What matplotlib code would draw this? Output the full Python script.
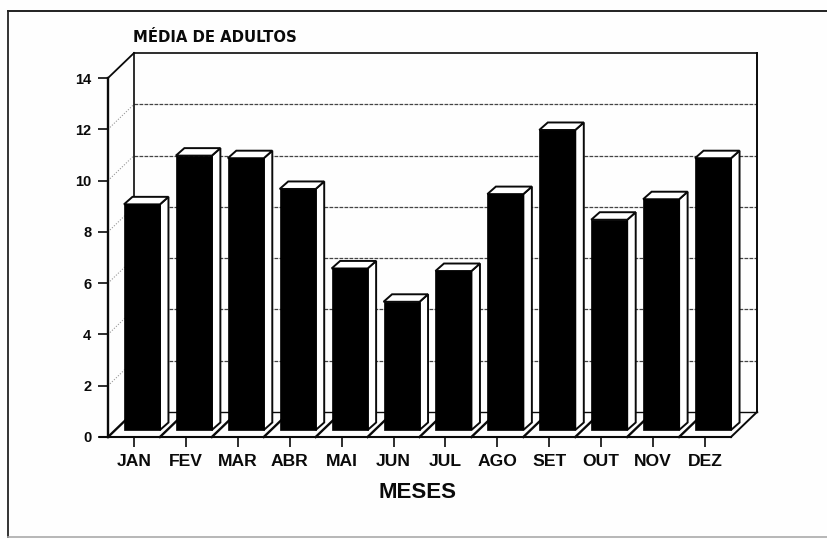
import matplotlib
matplotlib.use("Agg")
import matplotlib.pyplot as plt
from matplotlib.lines import Line2D
from matplotlib.patches import Polygon

months = ["JAN", "FEV", "MAR", "ABR", "MAI", "JUN", "JUL", "AGO", "SET", "OUT", "NOV", "DEZ"]
values = [8.8, 10.7, 10.6, 9.4, 6.3, 5.0, 6.2, 9.2, 11.7, 8.2, 9.0, 10.6]
yticks = [0, 2, 4, 6, 8, 10, 12, 14]
title = "MÉDIA DE ADULTOS"
xlabel = "MESES"

W, H = 828, 539
plt.rcParams["font.family"] = ["Liberation Sans", "DejaVu Sans"]
plt.rcParams["font.weight"] = "bold"
fig = plt.figure(figsize=(W / 100, H / 100), dpi=100, facecolor="#fefefe")
L, R, T, B = 108, 731, 78, 437
ax = fig.add_axes([L / W, 1 - B / H, (R - L) / W, (B - T) / H])
ax.set_xlim(0, 12)
ax.set_ylim(0, 14)
ax.patch.set_alpha(0)
for s in ax.spines.values():
    s.set_visible(False)

ux = (R - L) / 12
uy = (B - T) / 14
wx, wy = 26 / ux, 25 / uy      # depth of the walls
ox, oy = 8 / ux, 7 / uy        # offset of the bars on the floor
dx, dy = 8.5 / ux, 7.5 / uy    # depth of each bar
bw = 36 / ux
ink = "#0a0a0a"

def seg(xs, ys, lw=1.3, c=ink, z=2, ls="-"):
    ax.plot(xs, ys, color=c, lw=lw, zorder=z, ls=ls, clip_on=False, solid_capstyle="projecting")

# walls
seg([0, 0], [0, 14], lw=1.7)
seg([0, wx], [14, 14 + wy], lw=1.3)
seg([wx, 12 + wx], [14 + wy, 14 + wy], lw=1.2)
seg([wx, wx], [wy, 14 + wy], lw=1.2)
seg([12 + wx, 12 + wx], [wy, 14 + wy], lw=1.4)
seg([wx, 12 + wx], [wy, wy], lw=1.0)
seg([12, 12 + wx], [0, wy], lw=1.4)
seg([-0.15, 12], [0, 0], lw=1.5)

# grid lines
for v in yticks[1:-1]:
    seg([wx, 12 + wx], [v + wy, v + wy], lw=0.9, c="#444444", z=1, ls=(0, (3, 1)))
    seg([0, wx], [v, v + wy], lw=0.8, c="#999999", z=1, ls=(0, (1, 1.5)))

# floor divisions
for i in range(12):
    seg([i, i + wx], [0, wy], lw=1.7, z=1.5)

# bars
x = [i + 0.5 + ox for i in range(12)]
for xi, v in zip(x, values):
    x0, x1 = xi - bw / 2, xi + bw / 2
    y0, y1 = oy, oy + v
    ax.add_patch(Polygon([(x1, y0), (x1 + dx, y0 + dy), (x1 + dx, y1 + dy), (x1, y1)],
                         fc="white", ec=ink, lw=1.4, zorder=3, clip_on=False))
    ax.add_patch(Polygon([(x0, y1), (x0 + dx, y1 + dy), (x1 + dx, y1 + dy), (x1, y1)],
                         fc="white", ec=ink, lw=1.4, zorder=3, clip_on=False))
ax.bar(x, values, width=bw, bottom=oy, color="black", edgecolor="black", lw=0.5, zorder=4, clip_on=False)

# axes ticks and labels
ax.set_xticks([i + 0.5 for i in range(12)], months)
ax.set_yticks(yticks, [str(v) for v in yticks])
ax.tick_params(axis="x", length=7, width=1.2, pad=5, labelsize=12.6, color=ink, labelcolor=ink)
ax.tick_params(axis="y", length=7, width=1.2, pad=5, labelsize=10.5, color=ink, labelcolor=ink)

fig.text(133 / W, 1 - 37 / H, title, fontsize=10.7, weight="bold", color=ink, va="center", ha="left",
         family=["DejaVu Sans"])
fig.text(418 / W, 1 - 493 / H, xlabel, fontsize=16, weight="bold", color=ink, va="center", ha="center")

# outer frame
fig.add_artist(Line2D([8 / W, 8 / W], [1 - 11 / H, 1 - 537 / H], color="#333333", lw=1.4))
fig.add_artist(Line2D([8 / W, 1], [1 - 11 / H, 1 - 11 / H], color="#222222", lw=1.4))
fig.add_artist(Line2D([8 / W, 1], [1 - 537 / H, 1 - 537 / H], color="#aaaaaa", lw=1.2))

fig.savefig("out.png", dpi=100, facecolor=fig.get_facecolor())
